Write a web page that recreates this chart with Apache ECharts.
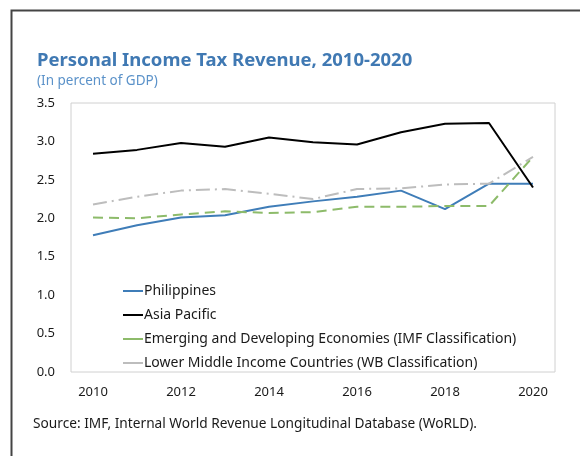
<!DOCTYPE html>
<html>
<head>
<meta charset="utf-8">
<script src="https://cdn.jsdelivr.net/npm/echarts@6/dist/echarts.min.js"></script>
<style>
  html, body { margin: 0; padding: 0; background: #fff; }
  #chart { width: 580px; height: 456px; }
</style>
</head>
<body>
<div id="chart"></div>
<script>
// years on the x axis
const years = ['2010', '2011', '2012', '2013', '2014', '2015', '2016', '2017', '2018', '2019', '2020'];

// values, percent of GDP
const philippines = [1.78, 1.91, 2.01, 2.04, 2.15, 2.22, 2.28, 2.36, 2.12, 2.45, 2.45];
const asiaPacific = [2.84, 2.89, 2.98, 2.93, 3.05, 2.99, 2.96, 3.12, 3.23, 3.24, 2.40];
const emerging = [2.01, 2.00, 2.05, 2.09, 2.07, 2.08, 2.15, 2.15, 2.16, 2.16, 2.80];
const lowerMiddle = [2.18, 2.28, 2.36, 2.38, 2.32, 2.25, 2.38, 2.39, 2.44, 2.45, 2.80];

const font = '"Noto Sans", "Open Sans", sans-serif';

const chart = echarts.init(document.getElementById('chart'));

const option = {
  animation: false,
  textStyle: { fontFamily: font },
  title: [
    {
      text: 'Personal Income Tax Revenue, 2010-2020',
      left: 32,
      top: 46,
      textStyle: { fontSize: 18.5, fontWeight: 'bold', color: '#4079b3', fontFamily: font }
    },
    {
      text: '(In percent of GDP)',
      left: 32,
      top: 69,
      textStyle: { fontSize: 13.5, fontWeight: 'normal', color: '#5b92c9', fontFamily: font }
    },
    {
      text: 'Source: IMF, Internal World Revenue Longitudinal Database (WoRLD).',
      left: 28,
      top: 412,
      textStyle: { fontSize: 13.7, fontWeight: 'normal', color: '#1a1a1a', fontFamily: font }
    }
  ],
  graphic: [
    {
      type: 'polyline',
      shape: { points: [[11.5, 456], [11.5, 10.5], [580, 10.5]] },
      style: { stroke: '#444', lineWidth: 2, fill: null }
    }
  ],
  grid: {
    left: 71,
    top: 103,
    right: 25,
    bottom: 84,
    show: true,
    borderColor: '#d0d0d0',
    borderWidth: 1
  },
  legend: {
    orient: 'vertical',
    left: 117,
    top: 279,
    itemWidth: 20,
    itemHeight: 10,
    itemGap: 10,
    itemStyle: { opacity: 0 },
    lineStyle: { type: 'solid' },
    textStyle: { fontSize: 14, color: '#1a1a1a', fontFamily: font, padding: [0, 0, 0, -4] },
    data: [
      'Philippines',
      'Asia Pacific',
      'Emerging and Developing Economies (IMF Classification)',
      'Lower Middle Income Countries (WB Classification)'
    ]
  },
  xAxis: {
    type: 'category',
    data: years,
    boundaryGap: true,
    axisLine: { show: false },
    axisTick: { show: false },
    axisLabel: { interval: 1, fontSize: 13, color: '#1a1a1a', margin: 14 }
  },
  yAxis: {
    type: 'value',
    min: 0,
    max: 3.5,
    interval: 0.5,
    splitLine: { show: false },
    axisLine: { show: false },
    axisTick: { show: false },
    axisLabel: {
      fontSize: 13,
      color: '#1a1a1a',
      margin: 16,
      formatter: v => v.toFixed(1)
    }
  },
  series: [
    {
      name: 'Philippines',
      type: 'line',
      data: philippines,
      symbol: 'none',
      lineStyle: { color: '#3f7db8', width: 2 },
      itemStyle: { color: '#3f7db8' }
    },
    {
      name: 'Asia Pacific',
      type: 'line',
      data: asiaPacific,
      symbol: 'none',
      lineStyle: { color: '#000', width: 2 },
      itemStyle: { color: '#000' }
    },
    {
      name: 'Emerging and Developing Economies (IMF Classification)',
      type: 'line',
      data: emerging,
      symbol: 'none',
      lineStyle: { color: '#8dbb6a', width: 2, type: [10, 6] },
      itemStyle: { color: '#8dbb6a' }
    },
    {
      name: 'Lower Middle Income Countries (WB Classification)',
      type: 'line',
      data: lowerMiddle,
      symbol: 'none',
      lineStyle: { color: '#bdbdbd', width: 2, type: [14, 5, 2, 5] },
      itemStyle: { color: '#bdbdbd' }
    }
  ]
};

chart.setOption(option);
</script>
</body>
</html>
